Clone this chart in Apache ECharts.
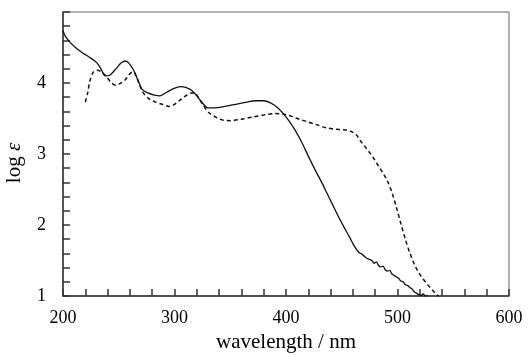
<!DOCTYPE html>
<html>
<head>
<meta charset="utf-8">
<script src="https://cdn.jsdelivr.net/npm/echarts@6/dist/echarts.min.js"></script>
<style>
  html, body { margin: 0; padding: 0; background: #fff; }
  #chart { width: 530px; height: 357px; }
</style>
</head>
<body>
<div id="chart"></div>
<script>
// wavelength (nm) and log epsilon
const solidWl = [200, 202, 206, 212, 218, 224, 230, 234, 238, 242, 247, 252, 256, 259, 263, 267, 271, 276, 282, 287,
    293, 299, 305, 310, 315, 320, 325, 330, 336, 345, 355, 365, 372, 380, 386, 392, 397, 402, 408, 414,
    420, 426, 432, 437, 442, 447, 452, 457, 461, 465, 468, 471, 474, 477, 479, 481, 483, 485, 487, 489,
    491, 493, 495, 497, 499, 501, 503, 505, 507, 509, 511, 513, 515, 517, 519, 521, 523, 525, 527];
const solidLog = [4.74, 4.66, 4.58, 4.49, 4.42, 4.36, 4.29, 4.20, 4.10, 4.11, 4.19, 4.28, 4.31, 4.28, 4.19, 4.05, 3.91, 3.86, 3.83, 3.82,
    3.87, 3.92, 3.95, 3.94, 3.90, 3.82, 3.72, 3.65, 3.65, 3.67, 3.70, 3.73, 3.75, 3.75, 3.72, 3.66, 3.58, 3.48, 3.34, 3.17,
    2.97, 2.78, 2.60, 2.44, 2.28, 2.12, 1.97, 1.83, 1.71, 1.62, 1.59, 1.55, 1.52, 1.50, 1.46, 1.48, 1.43, 1.41, 1.42, 1.37,
    1.35, 1.36, 1.31, 1.29, 1.27, 1.25, 1.21, 1.20, 1.16, 1.15, 1.12, 1.10, 1.06, 1.04, 1.02, 1.01, 1.03, 1.00, 1.01];

const dashWl = [220, 222, 224, 227, 231, 235, 239, 243, 247, 251, 256, 260, 263, 266, 269, 272, 277, 283, 289, 295,
    300, 305, 310, 315, 318, 322, 326, 331, 337, 343, 350, 360, 370, 380, 390, 398, 405, 412, 420, 428,
    436, 444, 452, 458, 463, 467, 471, 475, 479, 483, 487, 491, 495, 499, 503, 507, 511, 515, 519, 523,
    527, 531, 535, 537];
const dashLog = [3.73, 3.85, 4.02, 4.15, 4.18, 4.15, 4.09, 4.01, 3.97, 3.99, 4.05, 4.13, 4.16, 4.08, 3.96, 3.86, 3.78, 3.73, 3.70, 3.67,
    3.70, 3.76, 3.82, 3.86, 3.86, 3.78, 3.68, 3.58, 3.52, 3.48, 3.47, 3.49, 3.52, 3.55, 3.57, 3.56, 3.53, 3.49, 3.45, 3.41,
    3.37, 3.35, 3.34, 3.32, 3.27, 3.18, 3.10, 3.02, 2.93, 2.83, 2.73, 2.62, 2.46, 2.25, 2.02, 1.80, 1.61, 1.45, 1.33, 1.24,
    1.16, 1.09, 1.02, 1.00];

const xTicks = [200, 300, 400, 500, 600];
const yTicks = [1, 2, 3, 4];

const pair = (xs, ys) => xs.map((x, i) => [x, ys[i]]);

const axisColor = "#333";
const font = "Liberation Serif";

const chart = echarts.init(document.getElementById("chart"));

chart.setOption({
    backgroundColor: "#fff",
    animation: false,
    grid: {
        left: 63, top: 12, right: 21, bottom: 61,
        outerBoundsMode: "none",
        show: true,
        borderColor: "#666",
        borderWidth: 1
    },
    xAxis: {
        type: "value",
        min: xTicks[0],
        max: xTicks[xTicks.length - 1],
        interval: 100,
        name: "wavelength / nm",
        nameLocation: "middle",
        nameGap: 28,
        nameTextStyle: { fontFamily: font, fontSize: 21, color: "#000" },
        axisLine: { show: true, lineStyle: { color: axisColor, width: 1.5 } },
        axisTick: { show: true, inside: true, length: 7, lineStyle: { color: axisColor, width: 1.5 } },
        minorTick: { show: true, splitNumber: 5, length: 7, lineStyle: { color: axisColor, width: 1.5 } },
        splitLine: { show: false },
        axisLabel: { fontFamily: font, fontSize: 18, color: "#000", margin: 13 }
    },
    yAxis: {
        type: "value",
        min: yTicks[0],
        max: 5,
        interval: 1,
        name: "{a|log }{b|ε}",
        nameLocation: "middle",
        nameGap: 38,
        nameRotate: 90,
        nameTextStyle: {
            padding: [0, 18, 0, 0],
            rich: {
                a: { fontFamily: font, fontSize: 21, color: "#000" },
                b: { fontFamily: font, fontSize: 21, fontStyle: "italic", color: "#000" }
            }
        },
        axisLine: { show: true, lineStyle: { color: axisColor, width: 1.5 } },
        axisTick: { show: true, inside: true, length: 7, lineStyle: { color: axisColor, width: 1.5 } },
        minorTick: { show: true, splitNumber: 5, length: 7, lineStyle: { color: axisColor, width: 1.5 } },
        splitLine: { show: false },
        axisLabel: {
            fontFamily: font, fontSize: 18, color: "#000", margin: 17,
            formatter: v => (yTicks.includes(v) ? String(v) : "")
        }
    },
    series: [
        {
            name: "solid",
            type: "line",
            data: pair(solidWl, solidLog),
            showSymbol: false,
            smooth: 0.3,
            lineStyle: { color: "#111", width: 1.3 }
        },
        {
            name: "dashed",
            type: "line",
            data: pair(dashWl, dashLog),
            showSymbol: false,
            smooth: 0.3,
            lineStyle: { color: "#111", width: 1.5, type: [4, 3] }
        }
    ]
});
</script>
</body>
</html>
